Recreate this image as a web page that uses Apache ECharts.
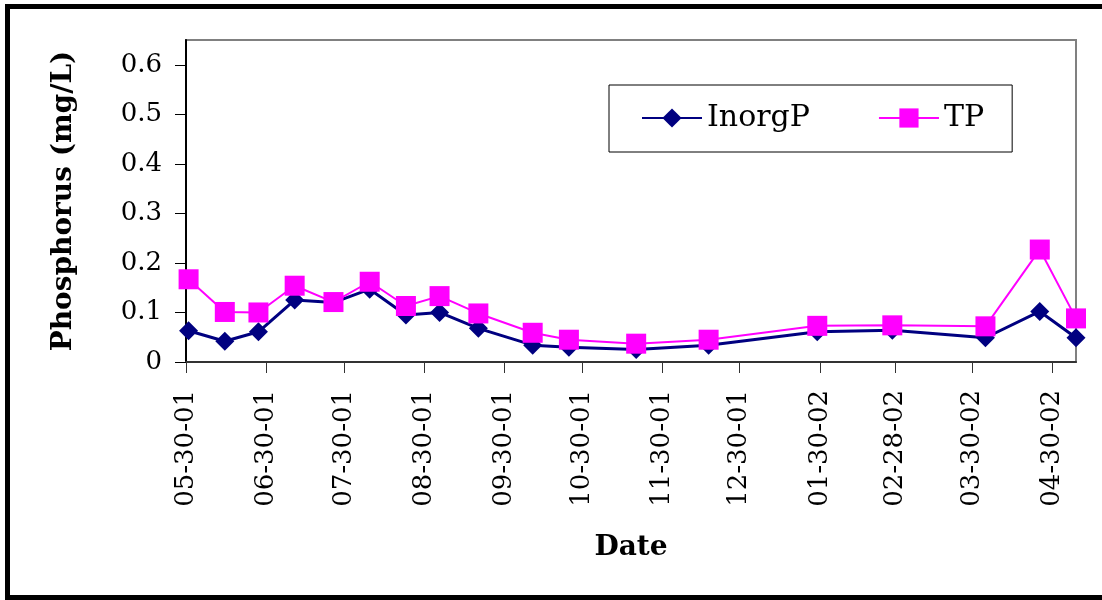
<!DOCTYPE html>
<html lang="en">

<head>
    <meta charset="UTF-8">
    <title>Phosphorus</title>
    <script src="https://cdn.jsdelivr.net/npm/echarts@6.0.0/dist/echarts.min.js"></script>
    <style>
        body { margin: 0; }
        #wrap { position: relative; width: 1102px; height: 600px; overflow: hidden; background: #fff; }
        #main { width: 1102px; height: 600px; }
        #frame { position: absolute; left: 5px; top: 4px; width: 1120px; height: 586px; border: 5px solid #000; pointer-events: none; }
    </style>
</head>

<body>
    <div id="wrap">
        <div id="main"></div>
        <div id="frame"></div>
    </div>
    <script type="text/javascript">
        // sampling dates and measured values
        const sampleDates = ['2001-05-31', '2001-06-14', '2001-06-27', '2001-07-11', '2001-07-26', '2001-08-09',
            '2001-08-23', '2001-09-05', '2001-09-20', '2001-10-11', '2001-10-25', '2001-11-20',
            '2001-12-18', '2002-01-29', '2002-02-27', '2002-04-04', '2002-04-25', '2002-05-09'];
        const inorgP = [0.063, 0.042, 0.061, 0.125, 0.120, 0.147, 0.095, 0.100, 0.068, 0.034, 0.030, 0.025,
            0.034, 0.061, 0.064, 0.049, 0.102, 0.049];
        const tp = [0.167, 0.101, 0.100, 0.154, 0.121, 0.162, 0.113, 0.133, 0.098, 0.059, 0.045, 0.037,
            0.045, 0.073, 0.074, 0.072, 0.227, 0.088];

        // axis ticks
        const tickDates = ['2001-05-30', '2001-06-30', '2001-07-30', '2001-08-30', '2001-09-30', '2001-10-30',
            '2001-11-30', '2001-12-30', '2002-01-30', '2002-02-28', '2002-03-30', '2002-04-30'];
        const tickLabels = ['05-30-01', '06-30-01', '07-30-01', '08-30-01', '09-30-01', '10-30-01',
            '11-30-01', '12-30-01', '01-30-02', '02-28-02', '03-30-02', '04-30-02'];
        const yTicks = [0, 0.1, 0.2, 0.3, 0.4, 0.5, 0.6];

        function toTime(s) {
            let p = s.split('-').map(Number);
            return Date.UTC(p[0], p[1] - 1, p[2]);
        }

        let tickTimes = tickDates.map(toTime);
        let labelByTime = {};
        tickTimes.forEach((t, i) => { labelByTime[t] = tickLabels[i]; });

        let font = 'DejaVu Serif';

        let options = {
            animation: false,
            legend: {
                left: 609,
                top: 85,
                padding: [18, 28, 19, 32],
                itemGap: 68,
                itemWidth: 60,
                itemHeight: 24,
                borderColor: '#000',
                borderWidth: 1,
                textStyle: { fontFamily: font, fontSize: 30, color: '#000' },
                data: ['InorgP', 'TP']
            },
            grid: {
                left: 186, right: 26, top: 40, bottom: 238,
                show: true,
                borderColor: '#808080',
                borderWidth: 2,
                outerBoundsMode: 'none'
            },
            xAxis: {
                type: 'value',
                min: toTime('2001-05-30'),
                max: toTime('2002-05-09'),
                name: 'Date',
                nameLocation: 'middle',
                nameGap: 172,
                nameTextStyle: { fontFamily: font, fontSize: 28, fontWeight: 'bold', color: '#000' },
                axisLine: { lineStyle: { color: '#333', width: 2 } },
                axisTick: { length: 11, customValues: tickTimes, lineStyle: { color: '#333' } },
                axisLabel: {
                    customValues: tickTimes,
                    rotate: 90,
                    margin: 28,
                    fontFamily: font,
                    fontSize: 26,
                    color: '#000',
                    formatter: (v) => labelByTime[v] || ''
                },
                splitLine: { show: false }
            },
            yAxis: {
                type: 'value',
                min: 0,
                max: 0.65,
                name: 'Phosphorus (mg/L)',
                nameLocation: 'middle',
                nameGap: 108,
                nameTextStyle: { fontFamily: font, fontSize: 28, fontWeight: 'bold', color: '#000' },
                axisLine: { show: true, lineStyle: { color: '#000', width: 2 } },
                axisTick: { show: true, length: 11, customValues: yTicks, lineStyle: { color: '#000' } },
                axisLabel: {
                    customValues: yTicks,
                    margin: 24,
                    fontFamily: font,
                    fontSize: 26,
                    color: '#000'
                },
                splitLine: { show: false }
            },
            series: [{
                name: 'InorgP',
                type: 'line',
                data: sampleDates.map((d, i) => [toTime(d), inorgP[i]]),
                symbol: 'diamond',
                symbolSize: 19,
                color: '#000080',
                lineStyle: { color: '#000080', width: 3 },
                itemStyle: { color: '#000080' }
            }, {
                name: 'TP',
                type: 'line',
                data: sampleDates.map((d, i) => [toTime(d), tp[i]]),
                symbol: 'rect',
                symbolSize: 20,
                color: '#ff00ff',
                lineStyle: { color: '#ff00ff', width: 2 },
                itemStyle: { color: '#ff00ff' }
            }]
        };

        let myChart = echarts.init(document.getElementById('main'));
        myChart.setOption(options);
    </script>
</body>

</html>
